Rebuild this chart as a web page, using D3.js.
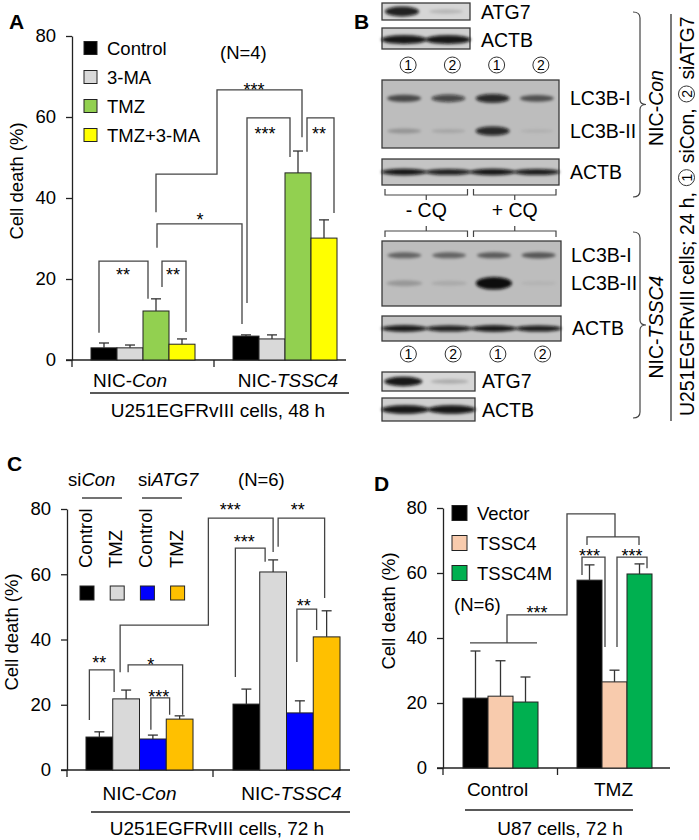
<!DOCTYPE html>
<html>
<head>
<meta charset="utf-8">
<script src="https://cdn.jsdelivr.net/npm/d3@7"></script>
<style>
  body { margin: 0; background: #fff; }
  svg { display: block; }
  text { font-family: "Liberation Sans", Arial, sans-serif; fill: #000; }
</style>
</head>
<body>
<svg id="fig" width="699" height="840"></svg>
<script>
// ---------------- data ----------------
var yTicks = [0, 20, 40, 60, 80];

// A: U251EGFRvIII cells, 48 h
var catsA   = [['NIC-', 'Con'], ['NIC-', 'TSSC4']];
var seriesA = ['Control', '3-MA', 'TMZ', 'TMZ+3-MA'];
var colorsA = ['#000000', '#d9d9d9', '#92d050', '#ffff00'];
var meanA   = [[3.0, 3.0, 12.1, 3.9], [5.9, 5.2, 46.2, 30.1]];
var sdA     = [[1.2, 0.7, 3.0, 1.3], [0.3, 1.0, 5.4, 4.5]];

// C: U251EGFRvIII cells, 72 h
var catsC   = [['NIC-', 'Con'], ['NIC-', 'TSSC4']];
var seriesC = ['Control', 'TMZ', 'Control', 'TMZ'];
var colorsC = ['#000000', '#d9d9d9', '#0000ff', '#ffc000'];
var meanC   = [[10.1, 21.8, 9.5, 15.6], [20.2, 60.7, 17.5, 40.8]];
var sdC     = [[1.6, 2.7, 1.2, 1.0], [4.6, 3.7, 3.7, 8.0]];

// D: U87 cells, 72 h
var catsD   = [['Control', ''], ['TMZ', '']];
var seriesD = ['Vector', 'TSSC4', 'TSSC4M'];
var colorsD = ['#000000', '#f8cbad', '#00b050'];
var meanD   = [[21.5, 22.1, 20.3], [57.8, 26.5, 59.7]];
var sdD     = [[14.5, 10.9, 7.7], [4.7, 3.6, 3.1]];

// significance brackets, points are [group, bar, nudge px, value]
var sigA = [
  { pts: [[0,2,0,36.5],[0,2,0,45.9],[1,0,-29,45.9],[1,0,-29,66.7],[1,2,4,66.7],[1,2,4,55]], star: '***', at: [1,0,8,67.9] },
  { pts: [[1,0,1,14.1],[1,0,1,59.8],[1,2,-8,59.8],[1,2,-8,50.1]], star: '***', at: [1,1,-7,56.8] },
  { pts: [[1,2,9,51.4],[1,2,9,59.8],[1,3,10,59.8],[1,3,10,36.3]], star: '**', at: [1,3,-5,56.8] },
  { pts: [[0,2,1,27.7],[0,2,1,33.6],[1,0,-4,33.6],[1,0,-4,8.9]], star: '*', at: [0,3,18,35.8] },
  { pts: [[0,0,-5,6.7],[0,0,-5,24.4],[0,2,-8,24.4],[0,2,-8,15.1]], star: '**', at: [0,1,-7,22.2] },
  { pts: [[0,2,6,18.0],[0,2,6,24.4],[0,3,4,24.4],[0,3,4,6.9]], star: '**', at: [0,3,-9,22.2] }
];
var sigC = [
  { pts: [[0,1,-6,30.0],[0,1,-6,44.4],[1,0,-38,44.4],[1,0,-38,77.2],[1,1,0,77.2],[1,1,0,66.8]], star: '***', at: [1,0,-16,81.2] },
  { pts: [[1,1,5,68.4],[1,1,5,77.2],[1,3,-2,77.2],[1,3,-2,52.7]], star: '**', at: [1,2,-2,81.2] },
  { pts: [[1,0,-11,28.5],[1,0,-11,68.0],[1,1,-8,68.0],[1,1,-8,63.8]], star: '***', at: [1,0,-2,71.4] },
  { pts: [[1,2,-3,33.1],[1,2,-3,49.3],[1,3,-10,49.3],[1,3,-10,42.9]], star: '**', at: [1,2,4,51.8] },
  { pts: [[0,0,-10,15.3],[0,0,-10,30.7],[0,1,-12,30.7],[0,1,-12,23.9]], star: '**', at: [0,0,0,34.3] },
  { pts: [[0,1,2,30.0],[0,1,2,32.2],[0,3,3,32.2],[0,3,3,16.9]], star: '*', at: [0,2,-2,33.7] },
  { pts: [[0,2,-2,12.3],[0,2,-2,22.1],[0,3,-10,22.1],[0,3,-10,16.9]], star: '***', at: [0,2,6,23.9] }
];
var sigD = [
  { pts: [[0,0,-5.5,38.5],[0,2,11.5,38.5]] },
  { pts: [[0,1,6.5,38.5],[0,1,6.5,47.1],[1,0,-22.5,47.1],[1,0,-22.5,78.2],[1,1,0.5,78.2],[1,1,0.5,71.1]], star: '***', at: [0,2,11.5,49.2] },
  { pts: [[1,0,-2.5,68.6],[1,0,-2.5,71.1],[1,2,-0.5,71.1],[1,2,-0.5,68.6]] },
  { pts: [[1,0,-7.5,59.4],[1,0,-7.5,64.9],[1,1,-9.5,64.9],[1,1,-9.5,37.2]], star: '***', at: [1,0,0,66.5] },
  { pts: [[1,1,2.5,37.2],[1,1,2.5,64.9],[1,2,7.5,64.9],[1,2,7.5,61.5]], star: '***', at: [1,2,-7.5,66.5] }
];

// B: western blot band intensities (lanes: siCon, siATG7, siCon, siATG7)
var lanesB      = ['1', '2', '1', '2'];
var lc3bIcon    = [0.62, 0.68, 0.85, 0.58];
var lc3bIIcon   = [0.22, 0.12, 0.85, 0.07];
var lc3bItssc4  = [0.48, 0.48, 0.52, 0.55];
var lc3bIItssc4 = [0.20, 0.10, 1.00, 0.05];
var actbLarge   = [0.95, 0.9, 0.95, 0.92];
var atg7Con     = [0.9, 0.15];
var atg7Tssc4   = [0.95, 0.2];
var actbSmall   = [0.95, 0.95];

// ---------------- drawing ----------------
var svg = d3.select('#fig');
var FONT = '"Liberation Sans", Arial, sans-serif';
var SERIF = '"Liberation Serif", "DejaVu Serif", serif';

svg.append('defs').append('filter').attr('id', 'blur')
  .attr('x', '-50%').attr('y', '-100%').attr('width', '200%').attr('height', '300%')
  .append('feGaussianBlur').attr('stdDeviation', 1.6);

function label(txt, x, y) {
  svg.append('text').text(txt).attr('x', x).attr('y', y)
    .attr('font-size', 21).attr('font-weight', 'bold');
}

function barPanel(o) {
  var g = svg.append('g');
  var y = d3.scaleLinear().domain([0, 80]).range([o.yBottom, o.yTop]);
  var x0 = d3.scaleBand().domain(d3.range(o.means.length)).range(o.xRange)
             .paddingInner(o.pad).paddingOuter(o.pad / 2);
  var x1 = d3.scaleBand().domain(d3.range(o.colors.length)).range([0, x0.bandwidth()]);
  var bx = function(gi, si, dx) { return x0(gi) + x1(si) + x1.bandwidth() / 2 + (dx || 0); };

  // y axis
  g.append('g').attr('transform', 'translate(' + o.axisX + ',0)')
    .call(d3.axisLeft(y).tickValues(yTicks).tickSize(6).tickSizeOuter(0).tickPadding(10))
    .call(function(a) {
      a.attr('font-family', FONT).attr('font-size', 18.5);
      a.selectAll('path,line').attr('stroke', '#222').attr('stroke-width', 1.3);
      a.selectAll('text').attr('fill', '#000');
    });

  // x axis line and ticks
  var mid = (x0(0) + x0.bandwidth() + x0(1)) / 2;
  g.append('line').attr('x1', o.axisX - 6).attr('x2', o.xEnd)
    .attr('y1', y(0)).attr('y2', y(0)).attr('stroke', '#222').attr('stroke-width', 1.3);
  g.selectAll(null).data([o.axisX, mid]).enter().append('line')
    .attr('x1', d => d).attr('x2', d => d).attr('y1', y(0)).attr('y2', y(0) + 7)
    .attr('stroke', '#222').attr('stroke-width', 1.3);

  // bars
  var flat = [];
  o.means.forEach(function(row, gi) {
    row.forEach(function(v, si) { flat.push({ g: gi, s: si, v: v, e: o.sds[gi][si] }); });
  });
  g.selectAll('rect.bar').data(flat).enter().append('rect').attr('class', 'bar')
    .attr('x', d => x0(d.g) + x1(d.s)).attr('width', x1.bandwidth())
    .attr('y', d => y(d.v)).attr('height', d => y(0) - y(d.v))
    .attr('fill', d => o.colors[d.s]).attr('stroke', '#222').attr('stroke-width', 1);

  // error bars (upper only)
  var eb = g.selectAll('g.err').data(flat).enter().append('g').attr('class', 'err')
    .attr('stroke', '#333').attr('stroke-width', 1.3);
  eb.append('line').attr('x1', d => bx(d.g, d.s)).attr('x2', d => bx(d.g, d.s))
    .attr('y1', d => y(d.v)).attr('y2', d => y(d.v + d.e));
  eb.append('line').attr('x1', d => bx(d.g, d.s) - 5).attr('x2', d => bx(d.g, d.s) + 5)
    .attr('y1', d => y(d.v + d.e)).attr('y2', d => y(d.v + d.e));

  // significance brackets
  var line = d3.line().x(p => bx(p[0], p[1], p[2])).y(p => y(p[3]));
  o.sig.forEach(function(s) {
    g.append('path').attr('d', line(s.pts)).attr('fill', 'none')
      .attr('stroke', '#444').attr('stroke-width', 1.3);
    if (s.star) {
      g.append('text').text(s.star).attr('text-anchor', 'middle')
        .attr('x', bx(s.at[0], s.at[1], s.at[2])).attr('y', y(s.at[3]) + 10.5)
        .attr('font-size', 18).attr('fill', '#111');
    }
  });

  // category labels
  o.cats.forEach(function(c, gi) {
    var t = g.append('text').attr('text-anchor', 'middle').attr('font-size', 19)
      .attr('x', x0(gi) + x0.bandwidth() / 2 + o.catDx[gi]).attr('y', o.catY);
    t.append('tspan').text(c[0]);
    if (c[1]) t.append('tspan').attr('font-style', 'italic').text(c[1]);
  });
  g.append('line').attr('x1', o.under[0]).attr('x2', o.under[1])
    .attr('y1', o.under[2]).attr('y2', o.under[2]).attr('stroke', '#222').attr('stroke-width', 1.3);
  g.append('text').text(o.caption).attr('text-anchor', 'middle').attr('font-size', 19)
    .attr('x', o.capPos[0]).attr('y', o.capPos[1]);

  // y label
  g.append('text').text('Cell death (%)').attr('text-anchor', 'middle').attr('font-size', 18.5)
    .attr('transform', 'translate(' + o.yLab[0] + ',' + o.yLab[1] + ') rotate(-90)');
  return g;
}

// ---- Panel A ----
label('A', 9, 29);
barPanel({
  means: meanA, sds: sdA, colors: colorsA, sig: sigA, cats: catsA,
  yBottom: 360, yTop: 36, xRange: [72, 356], pad: 0.2676, axisX: 72, xEnd: 346,
  catDx: [-13, 3], catY: 387, under: [90, 349, 393],
  caption: 'U251EGFRvIII cells, 48 h', capPos: [218, 417], yLab: [23, 181]
});
var legA = svg.append('g').selectAll('g').data(seriesA).enter().append('g')
  .attr('transform', (d, i) => 'translate(84,' + (48 + i * 29) + ')');
legA.append('rect').attr('x', 0).attr('y', -6.5).attr('width', 13).attr('height', 13)
  .attr('fill', (d, i) => colorsA[i]).attr('stroke', '#222').attr('stroke-width', 1);
legA.append('text').text(d => d).attr('x', 23).attr('y', 6.5).attr('font-size', 18.5);
svg.append('text').text('(N=4)').attr('x', 220).attr('y', 59).attr('font-size', 18.5);

// ---- Panel C ----
label('C', 7, 471);
barPanel({
  means: meanC, sds: sdC, colors: colorsC, sig: sigC, cats: catsC,
  yBottom: 770, yTop: 509, xRange: [66, 360], pad: 0.272, axisX: 67, xEnd: 350,
  catDx: [0, 5], catY: 800, under: [91, 350, 812],
  caption: 'U251EGFRvIII cells, 72 h', capPos: [217, 835], yLab: [18, 632]
});
var hdC = svg.append('g');
var t1 = hdC.append('text').attr('x', 68).attr('y', 486).attr('font-size', 18.5);
t1.append('tspan').text('si'); t1.append('tspan').attr('font-style', 'italic').text('Con');
var t2 = hdC.append('text').attr('x', 138).attr('y', 486).attr('font-size', 18.5);
t2.append('tspan').text('si'); t2.append('tspan').attr('font-style', 'italic').text('ATG7');
hdC.append('text').text('(N=6)').attr('x', 238).attr('y', 486).attr('font-size', 18.5);
hdC.selectAll('line').data([[82, 122], [142, 182]]).enter().append('line')
  .attr('x1', d => d[0]).attr('x2', d => d[1]).attr('y1', 498).attr('y2', 498)
  .attr('stroke', '#444').attr('stroke-width', 1.3);
var legC = hdC.selectAll('g').data(seriesC).enter().append('g')
  .attr('transform', (d, i) => 'translate(' + (87 + i * 30.2) + ',0)');
legC.append('text').text(d => d).attr('font-size', 18.5)
  .attr('transform', 'translate(5,568) rotate(-90)');
legC.append('rect').attr('x', -7).attr('y', 586).attr('width', 14).attr('height', 14)
  .attr('fill', (d, i) => colorsC[i]).attr('stroke', '#222').attr('stroke-width', 1);

// ---- Panel D ----
label('D', 374, 491);
barPanel({
  means: meanD, sds: sdD, colors: colorsD, sig: sigD, cats: catsD,
  yBottom: 768, yTop: 508, xRange: [443.5, 671.5], pad: 0.342, axisX: 443, xEnd: 670,
  catDx: [-3, -1], catY: 796, under: [465, 633, 810],
  caption: 'U87 cells, 72 h', capPos: [560, 835], yLab: [395, 611]
});
var legD = svg.append('g').selectAll('g').data(seriesD).enter().append('g')
  .attr('transform', (d, i) => 'translate(452,' + (513 + i * 30) + ')');
legD.append('rect').attr('x', 0).attr('y', -7.5).attr('width', 15).attr('height', 15)
  .attr('fill', (d, i) => colorsD[i]).attr('stroke', '#222').attr('stroke-width', 1);
legD.append('text').text(d => d).attr('x', 25).attr('y', 7).attr('font-size', 18.5);
svg.append('text').text('(N=6)').attr('x', 454).attr('y', 611).attr('font-size', 18.5);

// ---- Panel B : blots ----
label('B', 354, 29);
var gB = svg.append('g');

function blot(box, rows, bg) {
  var g = gB.append('g');
  g.append('rect').attr('x', box[0]).attr('y', box[1]).attr('width', box[2]).attr('height', box[3])
    .attr('fill', bg).attr('stroke', '#3a3a3a').attr('stroke-width', 1.3);
  var lane = d3.scaleBand().domain(d3.range(rows[0].vals.length)).range([box[0], box[0] + box[2]]);
  rows.forEach(function(r) {
    g.selectAll(null).data(r.vals).enter().append('ellipse')
      .attr('cx', (d, i) => lane(i) + lane.bandwidth() / 2 + (r.dx || 0))
      .attr('cy', box[1] + r.fy * box[3])
      .attr('rx', r.rx).attr('ry', d => r.ry * (0.5 + d))
      .attr('fill', '#0a0a0a').attr('fill-opacity', d => d)
      .attr('filter', 'url(#blur)');
  });
  return lane;
}

function circled(x, y, n) {
  gB.append('circle').attr('cx', x).attr('cy', y).attr('r', 8)
    .attr('fill', 'none').attr('stroke', '#333').attr('stroke-width', 1);
  gB.append('text').text(n).attr('x', x).attr('y', y + 5).attr('text-anchor', 'middle')
    .attr('font-family', SERIF).attr('font-size', 14);
}

function blotLabel(t, x, y) {
  gB.append('text').text(t).attr('x', x).attr('y', y).attr('font-size', 19.5);
}

// upper set (NIC-Con)
blot([382, 3, 88, 17], [{ fy: 0.5, vals: atg7Con, rx: 17, ry: 3.5, dx: -2 }], '#d6d6d6');
blot([382, 28, 88, 21], [{ fy: 0.55, vals: actbSmall, rx: 23, ry: 3 }], '#cfcfcf');
var laneU = blot([382, 80, 177, 68], [
  { fy: 0.27, vals: lc3bIcon, rx: 17, ry: 3.2 },
  { fy: 0.75, vals: lc3bIIcon, rx: 17, ry: 3.4 }
], '#bdbdbd');
blot([382, 159, 177, 26], [{ fy: 0.5, vals: actbLarge, rx: 23, ry: 2.2 }], '#c4c4c4');
lanesB.forEach((n, i) => circled(laneU(i) + laneU.bandwidth() / 2 + 4, 65, n));
blotLabel('ATG7', 481, 19);
blotLabel('ACTB', 481, 47);
blotLabel('LC3B-I', 570, 105);
blotLabel('LC3B-II', 570, 138);
blotLabel('ACTB', 570, 179);

// -CQ / +CQ brackets
[[0, 1, '- CQ'], [2, 3, '+ CQ']].forEach(function(b) {
  var xa = laneU(b[0]) + 3, xb = laneU(b[1]) + laneU.bandwidth() - 3, xm = (xa + xb) / 2;
  gB.append('path').attr('d', 'M' + xa + ',189 V195 H' + xb + ' V189 M' + xm + ',195 V200')
    .attr('fill', 'none').attr('stroke', '#444').attr('stroke-width', 1.2);
  gB.append('path').attr('d', 'M' + xa + ',237 V231 H' + xb + ' V237 M' + xm + ',231 V226')
    .attr('fill', 'none').attr('stroke', '#444').attr('stroke-width', 1.2);
  gB.append('text').text(b[2]).attr('x', xm).attr('y', 217).attr('text-anchor', 'middle')
    .attr('font-size', 19.5);
});

// lower set (NIC-TSSC4)
var laneL = blot([382, 241, 179, 65], [
  { fy: 0.22, vals: lc3bItssc4, rx: 17, ry: 3.0 },
  { fy: 0.65, vals: lc3bIItssc4, rx: 18, ry: 4.2 }
], '#bdbdbd');
blot([382, 316, 179, 25], [{ fy: 0.5, vals: actbLarge, rx: 23, ry: 2.2 }], '#c4c4c4');
lanesB.forEach((n, i) => circled(laneL(i) + laneL.bandwidth() / 2 + 4, 354, n));
blot([382, 372, 93, 19], [{ fy: 0.5, vals: atg7Tssc4, rx: 19, ry: 3.2, dx: -2 }], '#d6d6d6');
blot([382, 398, 93, 23], [{ fy: 0.5, vals: actbSmall, rx: 24, ry: 3 }], '#cfcfcf');
blotLabel('LC3B-I', 571, 262);
blotLabel('LC3B-II', 571, 290);
blotLabel('ACTB', 572, 335);
blotLabel('ATG7', 482, 388);
blotLabel('ACTB', 482, 417);

// right braces and rotated labels
function brace(y0, y1) {
  var ym = (y0 + y1) / 2;
  gB.append('path').attr('d',
    'M633,' + y0 + ' Q640,' + y0 + ' 640,' + (y0 + 6) + ' L640,' + (ym - 5) +
    ' Q640,' + ym + ' 646,' + ym + ' Q640,' + ym + ' 640,' + (ym + 5) +
    ' L640,' + (y1 - 6) + ' Q640,' + y1 + ' 633,' + y1)
    .attr('fill', 'none').attr('stroke', '#444').attr('stroke-width', 1.2);
}
brace(12, 197);
brace(232, 418);
[['NIC-', 'Con', 108], ['NIC-', 'TSSC4', 327]].forEach(function(l) {
  var t = gB.append('text').attr('text-anchor', 'middle').attr('font-size', 19.5)
    .attr('transform', 'translate(663,' + l[2] + ') rotate(-90)');
  t.append('tspan').text(l[0]);
  t.append('tspan').attr('font-style', 'italic').text(l[1]);
});
gB.append('line').attr('x1', 671).attr('x2', 671).attr('y1', 14).attr('y2', 421)
  .attr('stroke', '#333').attr('stroke-width', 1.3);

// long rotated caption with circled numbers, sized to fit the 402 px column
var lg = gB.append('g').attr('transform', 'translate(694,416) rotate(-90)');
var cur = 0;
function piece(t, size) {
  var el = lg.append('text').attr('x', cur).attr('y', 0).attr('font-size', size)
    .style('white-space', 'pre').text(t);
  cur += el.node().getComputedTextLength();
}
function circ(n) {
  lg.append('circle').attr('cx', cur + 9).attr('cy', -7.5).attr('r', 8)
    .attr('fill', 'none').attr('stroke', '#333').attr('stroke-width', 1);
  lg.append('text').text(n).attr('x', cur + 9).attr('y', -2.5).attr('text-anchor', 'middle')
    .attr('font-family', SERIF).attr('font-size', 14);
  cur += 18;
}
function buildCaption(size) {
  lg.selectAll('*').remove();
  cur = 0;
  piece('U251EGFRvIII cells; 24 h, ', size);
  circ('1');
  piece(' siCon, ', size);
  circ('2');
  piece(' siATG7', size);
  return cur;
}
var capLen = buildCaption(20);
if (capLen > 400) buildCaption(20 * (400 - 36) / (capLen - 36));
</script>
</body>
</html>
